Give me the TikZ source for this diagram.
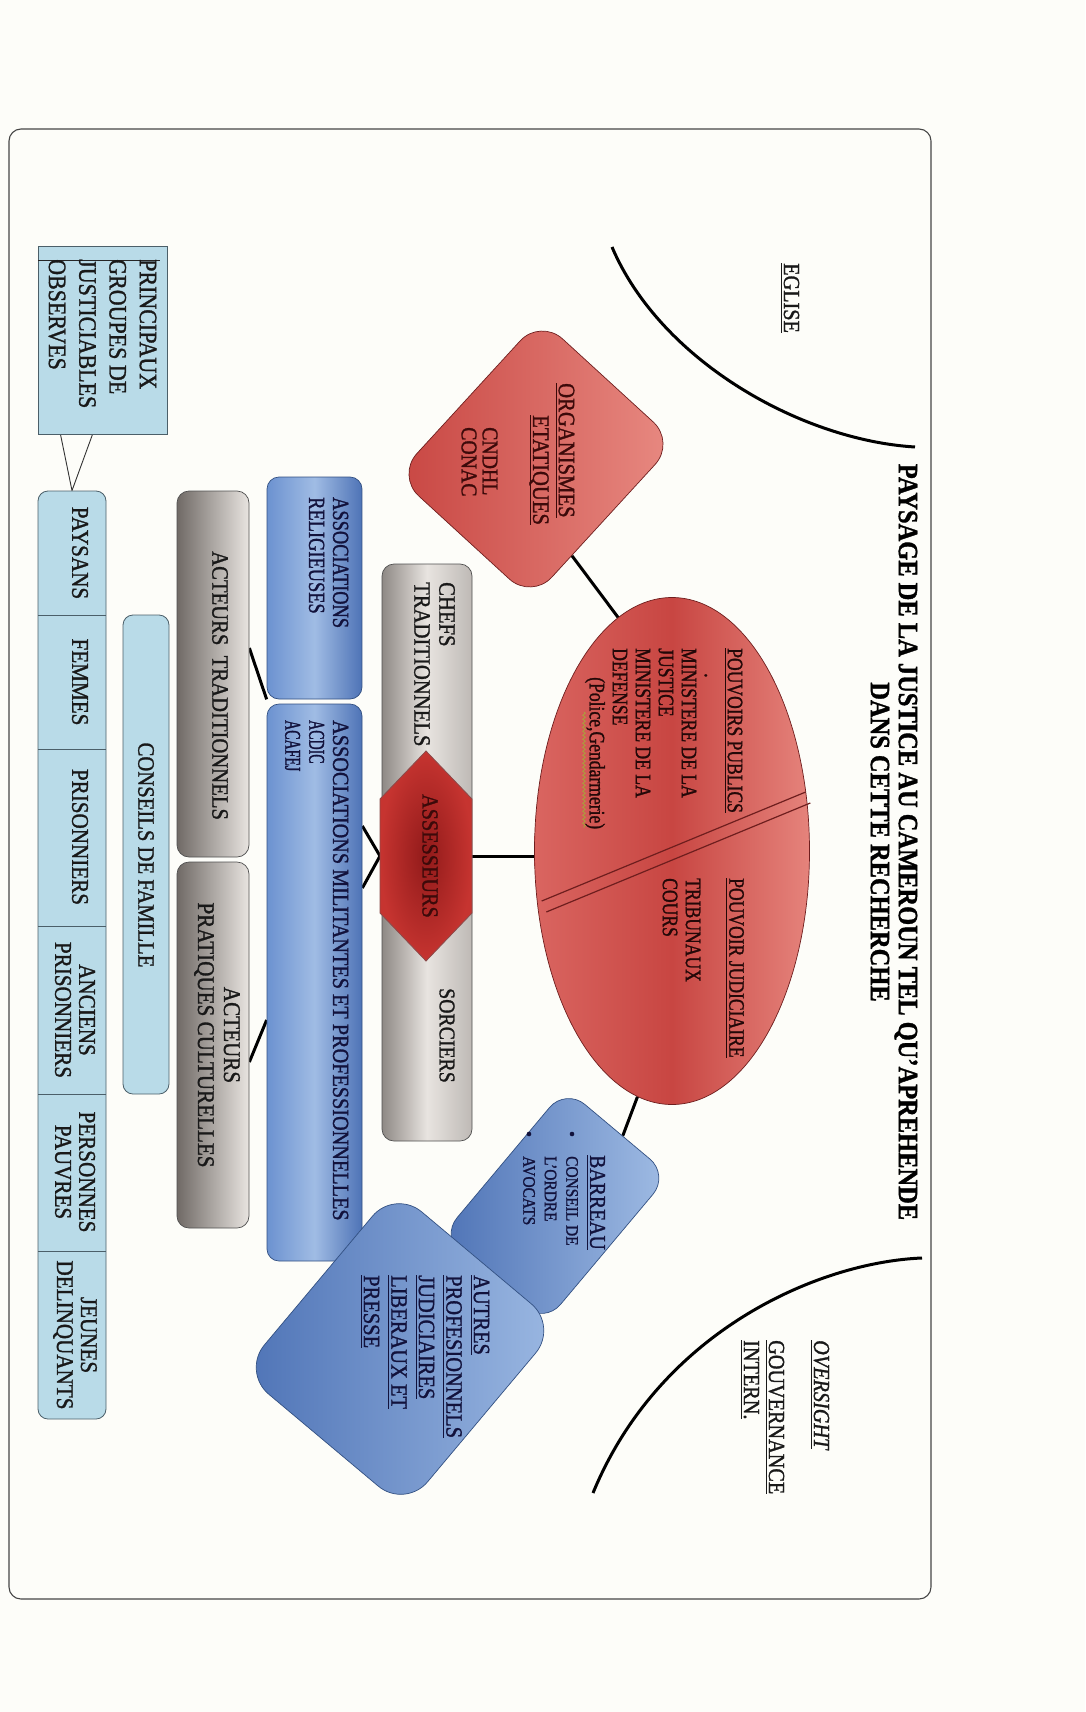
\documentclass[tikz,border=0pt]{standalone}
\usepackage{fontspec}
\setmainfont{Liberation Serif}[FakeStretch=0.88, FakeBold=1.2]
\newfontfamily\narA{Liberation Serif}[FakeStretch=0.8, FakeBold=1.2]
\newfontfamily\narB{Liberation Serif}[FakeStretch=0.62, FakeBold=1.2]
\usetikzlibrary{shapes.geometric,calc,decorations.pathmorphing,backgrounds}
\newcommand\fsz[2]{\fontsize{#1}{#2}\selectfont}
\newcommand\uln[1]{\setbox0=\hbox{#1}\rlap{\rule[-3.2pt]{\wd0}{1.2pt}}\box0}
\definecolor{bgc}{RGB}{253,253,249}
\definecolor{frm}{RGB}{70,70,70}
\definecolor{redL}{RGB}{232,138,130}
\definecolor{redM}{RGB}{214,92,88}
\definecolor{redD}{RGB}{200,70,66}
\definecolor{redB}{RGB}{110,30,30}
\definecolor{hexI}{RGB}{145,26,26}
\definecolor{hexO}{RGB}{198,52,48}
\definecolor{bluL}{RGB}{160,188,228}
\definecolor{bluM}{RGB}{108,146,208}
\definecolor{bluD}{RGB}{78,115,182}
\definecolor{bluB}{RGB}{50,80,130}
\definecolor{lbl}{RGB}{185,219,232}
\definecolor{lblB}{RGB}{75,95,105}
\definecolor{gryD}{RGB}{112,106,102}
\definecolor{gryL}{RGB}{232,228,224}
\definecolor{gryB}{RGB}{80,80,80}
\definecolor{txR}{RGB}{60,10,10}
\definecolor{txE}{RGB}{35,8,8}
\definecolor{txN}{RGB}{18,18,60}
\definecolor{txK}{RGB}{25,25,25}
\definecolor{sqg}{RGB}{170,160,60}
\begin{document}
\begin{tikzpicture}[x=1pt,y=-1pt,
  tx/.style={rotate=-90, inner sep=0pt, anchor=west, align=left},
  txc/.style={rotate=-90, inner sep=0pt, anchor=center, align=center},
  conn/.style={line width=3pt, black},
  thinc/.style={line width=0.9pt, black!80},
  arcl/.style={line width=3pt, black},
  redshape/.style={draw=redB, line width=0.7pt},
  bluebox/.style={rounded corners=12pt, draw=bluB, line width=0.7pt, inner sep=0pt, left color=bluM, right color=bluD, middle color=bluL},
  graybox/.style={rounded corners=12pt, draw=gryB, line width=0.7pt, inner sep=0pt, left color=gryD, right color=gryL},
  lbox/.style={draw=lblB, line width=0.8pt, fill=lbl, inner sep=0pt}
]
\useasboundingbox (0,0) rectangle (1085,1712);

% frame
\node[draw=frm, line width=1.1pt, rounded corners=12pt, minimum width=922pt, minimum height=1470pt, inner sep=0pt] (frame) at (470,864) {};

% arcs
\draw[arcl] (612,247) .. controls (660,360) and (800,440) .. (915,447);
\draw[arcl] (922,1258) .. controls (820,1262) and (660,1330) .. (593,1493);

% organismes
\node[redshape, rounded corners=30pt, rotate=-42.5, minimum width=183pt, minimum height=213pt, inner sep=0pt, left color=redD, right color=redL] (org) at (536,459) {};

% ellipse
\node[ellipse, redshape, minimum width=275pt, minimum height=507pt, inner sep=0pt, left color=redM!80!redL, right color=redL!85!redM, middle color=redD] (pp) at (672,851) {};
\draw[redB, line width=1.2pt] (805.7,792) -- (541.7,901);
\draw[redB, line width=1.2pt] (810.3,803) -- (546.3,912);

% chefs box
\node[graybox, minimum width=90pt, minimum height=577pt, left color=gryD!75!gryL, right color=gryD!35!gryL, middle color=gryL] (chef) at (427,852.5) {};

% hexagon
\coordinate (hT) at (426,751);
\coordinate (hUR) at (472,799);
\coordinate (hLR) at (472,913);
\coordinate (hB) at (426,961);
\coordinate (hLL) at (380,913);
\coordinate (hUL) at (380,799);
\coordinate (hexL) at (380,856);
\coordinate (hexR) at (472,856);
\draw[draw=redB!80, line width=0.8pt, inner color=hexI, outer color=hexO] (hT) -- (hUR) -- (hLR) -- (hB) -- (hLL) -- (hUL) -- cycle;

% blue boxes
\node[bluebox, minimum width=95pt, minimum height=222pt] (rel) at (314.5,588) {};
\node[bluebox, minimum width=95pt, minimum height=557pt] (mil) at (314.5,982.5) {};
% gray boxes
\node[graybox, minimum width=72pt, minimum height=366pt] (atr) at (213,674) {};
\node[graybox, minimum width=72pt, minimum height=366pt] (apr) at (213,1045) {};
% conseils de famille
\node[lbox, rounded corners=10pt, minimum width=46pt, minimum height=479pt] (cdf) at (146,854.5) {};
% list
\node[lbox, rounded corners=10pt, minimum width=68pt, minimum height=928pt] (lst) at (72,955) {};
\foreach \yy in {615,749,926,1094,1251} \draw[lblB, line width=0.8pt] (38,\yy) -- (106,\yy);
% principaux
\node[lbox, minimum width=129pt, minimum height=188pt] (prin) at (102.5,340) {};
\draw[black!85, line width=0.9pt] (38,260) -- (160,260);

% barreau & autres
\node[draw=bluB, line width=0.7pt, rounded corners=25pt, rotate=-40, minimum width=135pt, minimum height=194pt, inner sep=0pt, left color=bluD, right color=bluL] (bar) at (555,1206) {};
\node[draw=bluB, line width=0.7pt, rounded corners=35pt, rotate=-40, minimum width=213pt, minimum height=238pt, inner sep=0pt, left color=bluD, right color=bluL!90!bluM] (aut) at (400,1349) {};

% texts
\node[txc, font=\bfseries\fsz{27.8}{28}, text=black] (title) at (894,842) {PAYSAGE DE LA JUSTICE AU CAMEROUN TEL QU'APREHENDE\\DANS CETTE RECHERCHE};
\node[tx, font=\fsz{23}{25}, text=txK] (eg) at (790,263) {\uln{EGLISE}};
\node[tx, font=\fsz{23}{25}, text=txK] (ov) at (785,1340) {\uln{\itshape OVERSIGHT}\\[20pt]\uln{GOUVERNANCE}\\\uln{INTERN.}};

\node[tx, font=\fsz{23.5}{25}, text=txR] (o1) at (565,383) {\uln{ORGANISMES}};
\node[tx, font=\fsz{23.5}{25}, text=txR] (o2) at (539,415) {\uln{ETATIQUES}};
\node[tx, font=\fsz{22.5}{21}, text=txR] (o3) at (479.5,427) {CNDHL\\CONAC};

\node[tx, font=\narA\fsz{22}{23}, text=txE] (p1) at (677.5,648) {\uln{POUVOIRS PUBLICS}\\\hspace*{25pt}.\\MINISTERE DE LA\\JUSTICE\\MINISTERE DE LA\\DEFENSE};
\node[tx, font=\narA\fsz{22}{23}, text=txE] (p2) at (595,677) {(Police,Gendarmerie)};
\draw[sqg, line width=0.8pt, decorate, decoration={snake, amplitude=1.3pt, segment length=4pt}] (584,712) -- (584,828);
\node[tx, font=\narA\fsz{22}{23}, text=txE] (j1) at (735,878) {\uln{POUVOIR JUDICIAIRE}};
\node[tx, font=\narA\fsz{22}{23}, text=txE] (j2) at (681.5,878) {TRIBUNAUX\\COURS};

\node[tx, font=\fsz{23.5}{25}, text=txK] (c1) at (434.5,582) {CHEFS\\TRADITIONNELS};
\node[tx, font=\fsz{22.5}{25}, text=txK] (c2) at (447,988) {SORCIERS};
\node[txc, font=\fsz{23}{25}, text=txR] (hx) at (430,856) {ASSESSEURS};

\node[tx, font=\narA\fsz{23}{24}, text=txN] (r1) at (328.6,497) {ASSOCIATIONS\\RELIGIEUSES};
\node[tx, font=\fsz{23}{24}, text=txN] (m1) at (340.6,720) {ASSOCIATIONS MILITANTES ET PROFESSIONNELLES};
\node[tx, font=\narB\fsz{22.5}{24}, text=txN] (m2) at (304.6,720) {ACDIC\\ACAFEJ};

\node[tx, font=\fsz{23.5}{25}, text=txK] (a1) at (220,551) {ACTEURS\ \ TRADITIONNELS};
\node[txc, font=\fsz{24}{26}, text=txK] (a2) at (217,1035) {ACTEURS\\PRATIQUES CULTURELLES};
\node[txc, font=\fsz{23.5}{25}, text=txK] (cf) at (146,855) {CONSEILS DE FAMILLE};

\node[txc, font=\fsz{24}{24}, text=txK] (l1) at (80,553) {PAYSANS};
\node[txc, font=\fsz{24}{24}, text=txK] (l2) at (80,682) {FEMMES};
\node[txc, font=\fsz{24}{24}, text=txK] (l3) at (80,837) {PRISONNIERS};
\node[txc, font=\fsz{24}{24}, text=txK] (l4) at (75,1010) {ANCIENS\\PRISONNIERS};
\node[txc, font=\fsz{24}{24}, text=txK] (l5) at (75,1172) {PERSONNES\\PAUVRES};
\node[txc, font=\fsz{24}{24}, text=txK] (l6) at (75,1335) {JEUNES\\DELINQUANTS};

\node[tx, font=\fsz{25}{30.3}, text=txK] (pt) at (102.5,259) {PRINCIPAUX\\GROUPES DE\\JUSTICIABLES\\OBSERVES};

\node[tx, font=\fsz{22.5}{24}, text=txN] (b0) at (596,1155) {\uln{BARREAU}};
\node[tx, font=\fsz{17.5}{21.5}, text=txN] (b1) at (550.5,1156) {CONSEIL DE\\L'ORDRE\\AVOCATS};
\node[circle, fill=txN, inner sep=0pt, minimum size=4.6pt] (bu1) at (572,1134) {};
\node[circle, fill=txN, inner sep=0pt, minimum size=4.6pt] (bu2) at (529,1134) {};

\node[tx, font=\fsz{23.3}{27.5}, text=txN] (at) at (425,1275) {\uln{AUTRES}\\\uln{PROFESIONNELS}\\\uln{JUDICIAIRES}\\\uln{LIBERAUX ET}\\\uln{PRESSE}};

% background + connectors
\begin{scope}[on background layer]
\fill[bgc] (0,0) rectangle (1085,1712);
\coordinate (oc) at ($(org.north east)!0.72!(org.south east)$);
\coordinate (bc) at ($(bar.north west)!0.55!(bar.north east)$);
\draw[conn] (oc) -- (pp.103);
\draw[conn] (pp.262) -- (bc);
\draw[conn] (hexR) -- (hexR -| pp.west);
\draw[conn] ([yshift=156.5pt]mil.east) -- (hexL) -- ([yshift=94.5pt]mil.east);
\draw[conn] ([yshift=26pt]atr.east) -- (rel.south west);
\draw[conn] ([yshift=-17pt]apr.east) -- ([yshift=-37.5pt]mil.west);
\draw[thinc] ([xshift=-42pt]prin.south) -- (lst.north) -- ([xshift=-10pt]prin.south);
\end{scope}
\end{tikzpicture}
\end{document}
